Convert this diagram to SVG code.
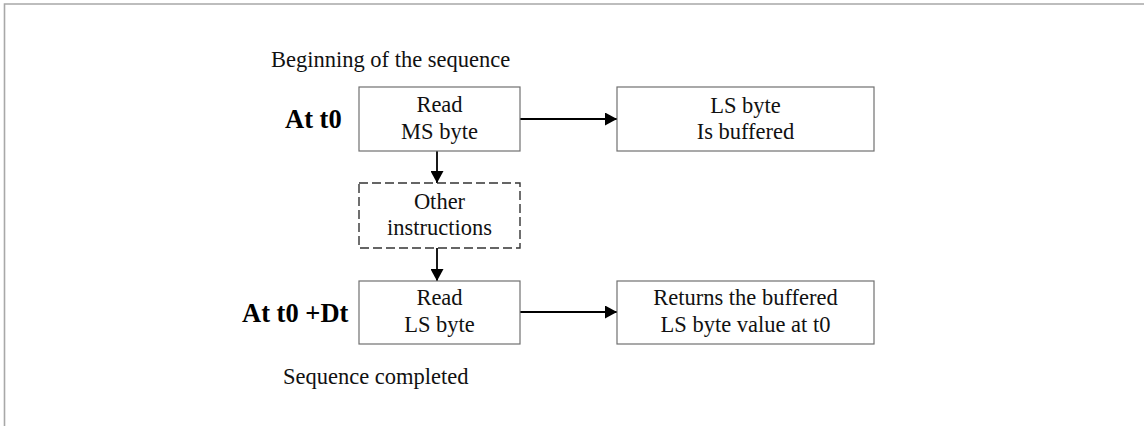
<svg xmlns="http://www.w3.org/2000/svg" width="1144" height="426" viewBox="0 0 1144 426">
<defs>
<marker id="ah" markerWidth="12" markerHeight="13" refX="12" refY="6.5" orient="auto" markerUnits="userSpaceOnUse">
<path d="M0,0 L12,6.5 L0,13 Z" fill="#000"/>
</marker>
</defs>
<style>
.box{fill:#fff;stroke:#707070;stroke-width:1.2}
.dash{fill:#fff;stroke:#333;stroke-width:1.4;stroke-dasharray:9,4}
.t{font-family:"Liberation Serif","Times New Roman",serif;font-size:22.5px;fill:#111;text-anchor:middle}
.l{font-family:"Liberation Serif","Times New Roman",serif;font-size:22.5px;fill:#111}
.b{font-family:"Liberation Serif","Times New Roman",serif;font-size:26.5px;font-weight:bold;fill:#000}
.c{stroke:#000;stroke-width:1.8;fill:none}
</style>
<rect width="1144" height="426" fill="#fff"/>
<path d="M4.5,426 V4 H1144" fill="none" stroke="#a8a8a8" stroke-width="1.6"/>
<g id="labels">
<text class="l" x="271" y="67">Beginning of the sequence</text>
<text class="b" x="285" y="128">At t0</text>
<text class="b" x="242" y="322">At t0 +Dt</text>
<text class="l" x="283" y="384">Sequence completed</text>
</g>
<g id="connectors">
<line class="c" x1="520" y1="119" x2="617" y2="119" marker-end="url(#ah)"/>
<line class="c" x1="437" y1="151" x2="437" y2="183" marker-end="url(#ah)"/>
<line class="c" x1="437" y1="248" x2="437" y2="281" marker-end="url(#ah)"/>
<line class="c" x1="520" y1="312" x2="617" y2="312" marker-end="url(#ah)"/>
</g>
<g id="read-ms">
<rect class="box" x="359" y="87" width="161" height="64"/>
<text class="t" x="439.5" y="112">Read</text>
<text class="t" x="439.5" y="138.5">MS byte</text>
</g>
<g id="ls-buffered">
<rect class="box" x="617" y="87" width="257" height="64"/>
<text class="t" x="745.5" y="112.5">LS byte</text>
<text class="t" x="745.5" y="139">Is buffered</text>
</g>
<g id="other">
<rect class="dash" x="359" y="183" width="161" height="65"/>
<text class="t" x="439.5" y="209">Other</text>
<text class="t" x="439.5" y="235">instructions</text>
</g>
<g id="read-ls">
<rect class="box" x="359" y="281" width="161" height="63"/>
<text class="t" x="439.5" y="305">Read</text>
<text class="t" x="439.5" y="332">LS byte</text>
</g>
<g id="returns">
<rect class="box" x="617" y="281" width="257" height="63"/>
<text class="t" x="745.5" y="305">Returns the buffered</text>
<text class="t" x="745.5" y="331.5">LS byte value at t0</text>
</g>
</svg>
